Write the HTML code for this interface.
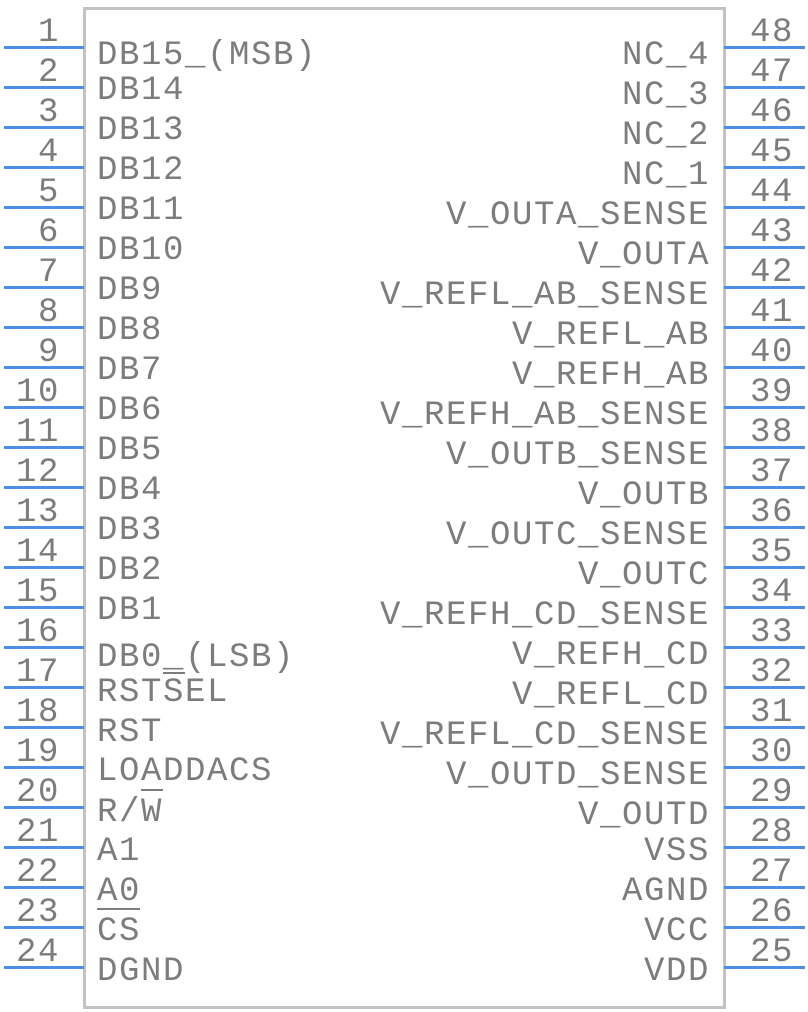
<!DOCTYPE html>
<html><head><meta charset="utf-8"><style>
html,body{margin:0;padding:0;background:#fff;}
body{width:808px;height:1012px;position:relative;overflow:hidden;font-family:"Liberation Mono",monospace;color:#7c7c7c;}
.box{position:absolute;left:83px;top:7px;width:637px;height:996px;border:3px solid #c2c2c2;}
.pl{position:absolute;height:3px;background:#4a8fe6;}
.t{position:absolute;font-size:34px;line-height:34px;letter-spacing:1.6px;white-space:pre;}
.bar{position:absolute;height:2px;background:#7c7c7c;}
</style></head><body>
<div class="box"></div>
<div id="c"></div>
<div class="bar" style="left:163px;top:672px;width:22px"></div>
<div class="bar" style="left:141px;top:789px;width:22px"></div>
<div class="bar" style="left:97px;top:908px;width:43px"></div>
<script>
var c=document.getElementById('c'),h='';
var L=["DB15_(MSB)","DB14","DB13","DB12","DB11","DB10","DB9","DB8","DB7","DB6","DB5","DB4","DB3","DB2","DB1","DB0_(LSB)","RSTSEL","RST","LOADDACS","R/W","A1","A0","CS","DGND"];
var LY=[54];for(var k=1;k<15;k++)LY.push(88.5+40*(k-1));LY.push(656,690.5,730.5,770,811,850,890,930,970);
var R=["NC_4","NC_3","NC_2","NC_1","V_OUTA_SENSE","V_OUTA","V_REFL_AB_SENSE","V_REFL_AB","V_REFH_AB","V_REFH_AB_SENSE","V_OUTB_SENSE","V_OUTB","V_OUTC_SENSE","V_OUTC","V_REFH_CD_SENSE","V_REFH_CD","V_REFL_CD","V_REFL_CD_SENSE","V_OUTD_SENSE","V_OUTD","VSS","AGND","VCC","VDD"];
for(var i=0;i<24;i++){
 var py=47+40*i;
 h+='<div class="pl" style="left:4px;width:80px;top:'+(py-1.5)+'px"></div>';
 h+='<div class="pl" style="left:724px;width:81px;top:'+(py-1.5)+'px"></div>';
 h+='<div class="t" style="right:'+(808-60)+'px;top:'+(py-16.5-15)+'px">'+(i+1)+'</div>';
 h+='<div class="t" style="left:750px;top:'+(py-16.5-15)+'px">'+(48-i)+'</div>';
 h+='<div class="t" style="left:97px;top:'+(LY[i]-15)+'px">'+L[i]+'</div>';
 var ry=i<20?54+40*i:[850,890,930,970][i-20];
 h+='<div class="t" style="right:'+(808-710)+'px;top:'+(ry-15)+'px">'+R[i]+'</div>';
}
c.innerHTML=h;
</script>
</body></html>
